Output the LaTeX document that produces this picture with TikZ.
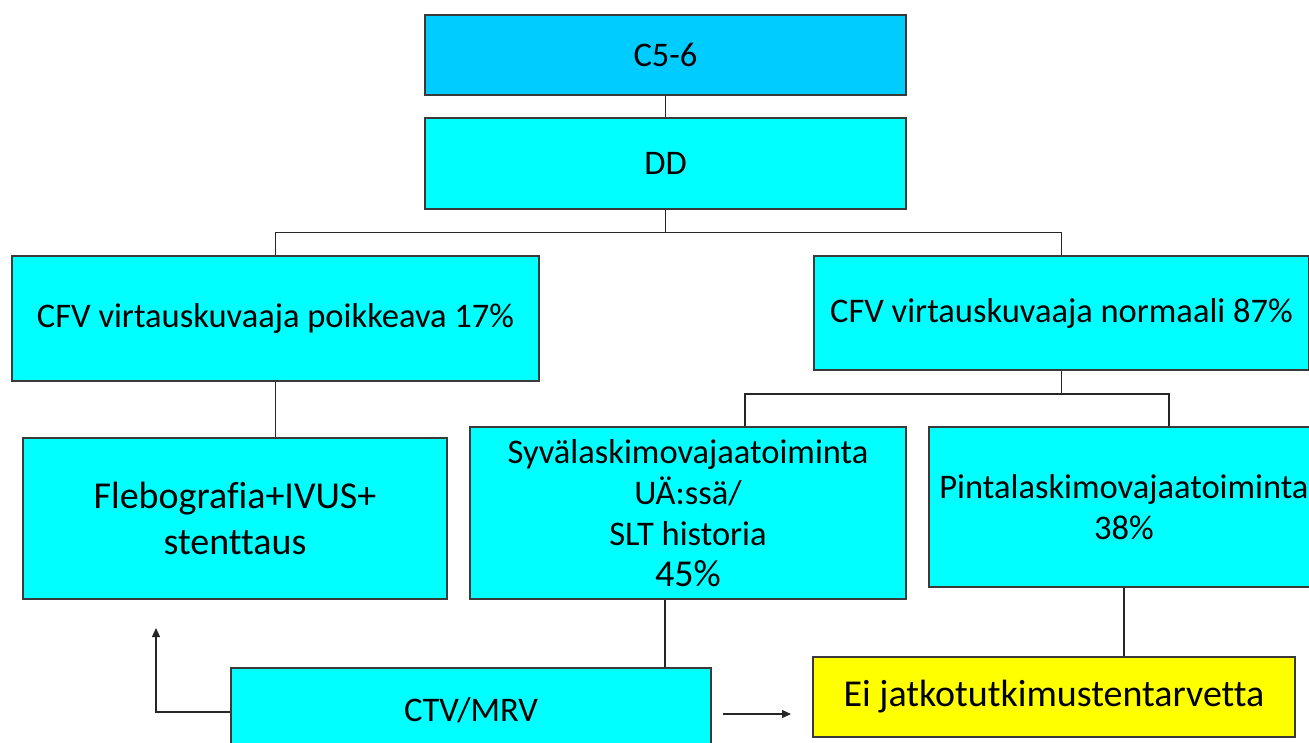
\documentclass[tikz,border=0pt]{standalone}
\usepackage{fontspec}
\setmainfont{Carlito}[Ligatures=NoCommon]
\usetikzlibrary{arrows.meta}
\definecolor{boxcyan}{HTML}{00FFFF}
\definecolor{boxblue}{HTML}{00CCFF}
\definecolor{boxyellow}{HTML}{FFFF00}
\definecolor{edge}{HTML}{3A3A3A}
\tikzset{
  x=1pt, y=-1pt,
  box/.style={draw=edge, line width=1.4pt, fill=boxcyan, align=center, inner sep=0pt,
    font=\fontsize{34.5}{41}\selectfont},
  bigbox/.style={box, font=\fontsize{38}{46}\selectfont},
  conn/.style={draw=black!85, line width=1.2pt},
  arr/.style={conn, -{Triangle[length=9pt,width=8pt]}}
}
\begin{document}
\begin{tikzpicture}
\useasboundingbox (0,0) rectangle (1309,742);
\clip (0,0) rectangle (1309,742);
\node[box, fill=boxblue, minimum width=481, minimum height=80] (c56) at (665.5,55) {C5-6};
\node[box, minimum width=481, minimum height=91] (dd) at (665.5,163.5) {DD};
\node[box, minimum width=527, minimum height=125] (poik) at (275.5,318.5) {CFV virtauskuvaaja poikkeava 17\%};
\node[box, minimum width=495, minimum height=114] (norm) at (1061.5,313) {CFV virtauskuvaaja normaali 87\%};
\node[bigbox, minimum width=424, minimum height=161] (fleb) at (235,518.5) {Flebografia+IVUS+\\stenttaus};
\node[box, minimum width=436, minimum height=172] (syva) at (688,513) {Syvälaskimovajaatoiminta\\UÄ:ssä/\\SLT historia\\{\fontsize{38}{45}\selectfont 45\%}};
\node[box, minimum width=390, minimum height=160] (pinta) at (1124,507) {Pintalaskimovajaatoiminta\\38\%};
\node[box, minimum width=480, minimum height=84] (ctv) at (471,710) {CTV/MRV};
\node[bigbox, fill=boxyellow, minimum width=482, minimum height=80] (ei) at (1054,697) {Ei jatkotutkimustentarvetta};
\coordinate (up) at (156,628);
\coordinate (ra) at (723,714);
\coordinate (rb) at (791,714);
\coordinate (nj) at (1061.5,394);
\draw[conn] (c56.south) -- (dd.north);
\draw[conn] (dd.south) -- ++(0,23) -| (poik.north);
\draw[conn] (dd.south) -- ++(0,23) -| (norm.north);
\draw[conn] (poik.south) -- (poik.south |- fleb.north);
\draw[conn] (norm.south) -- (nj);
\draw[conn] (nj) -| ([xshift=57]syva.north);
\draw[conn] (nj) -| ([xshift=45]pinta.north);
\draw[conn] ([xshift=-23]syva.south) -- ([xshift=-23]syva.south |- ctv.north);
\draw[conn] (pinta.south) -- (pinta.south |- ei.north);
\draw[arr] ([yshift=-2]ctv.west) -| (up);
\draw[arr] (ra) -- (rb);
\end{tikzpicture}
\end{document}
